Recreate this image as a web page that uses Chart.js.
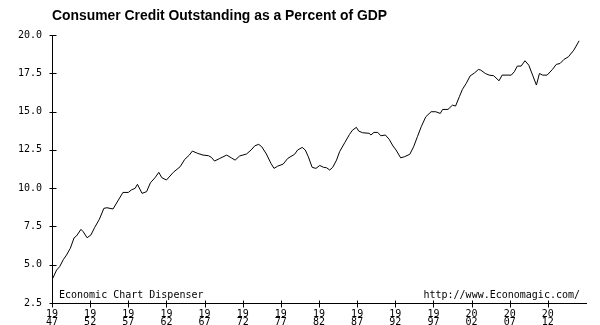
<!DOCTYPE html>
<html>
<head>
<meta charset="utf-8">
<script src="https://cdn.jsdelivr.net/npm/chart.js@4/dist/chart.umd.min.js"></script>
<style>
  html, body { margin: 0; padding: 0; background: #fff; }
  #wrap { width: 600px; height: 325px; position: relative; }
</style>
</head>
<body>
<div id="wrap"><canvas id="creditChart"></canvas></div>
<script>
/* ---------- DATA ---------- */

const chartTitle = "Consumer Credit Outstanding as a Percent of GDP";
const leftNote = "Economic Chart Dispenser";
const rightNote = "http://www.Economagic.com/";

const years = [
  1947.1, 1947.6, 1948.0, 1948.5, 1948.9, 1949.4, 1949.9, 1950.2, 1950.8, 1951.1,
  1951.6, 1952.1, 1952.6, 1953.2, 1953.8, 1954.2, 1955.0, 1955.7, 1956.3, 1957.0,
  1957.4, 1957.9, 1958.2, 1958.8, 1959.4, 1959.9, 1960.5, 1961.0, 1961.4, 1962.0,
  1962.9, 1963.8, 1964.4, 1965.0, 1965.4, 1966.1, 1966.8, 1967.5, 1967.9, 1968.3,
  1969.0, 1969.9, 1970.5, 1971.0, 1971.6, 1972.5, 1973.1, 1973.6, 1974.1, 1974.5,
  1975.1, 1975.7, 1976.1, 1976.6, 1977.3, 1977.9, 1978.8, 1979.2, 1979.8, 1980.2,
  1980.6, 1981.1, 1981.6, 1982.1, 1982.6, 1983.0, 1983.4, 1983.8, 1984.3, 1984.7,
  1985.4, 1986.0, 1986.4, 1986.9, 1987.2, 1987.7, 1988.6, 1988.8, 1989.2, 1989.7,
  1990.1, 1990.7, 1991.2, 1991.7, 1992.1, 1992.7, 1993.2, 1993.9, 1994.4, 1994.9,
  1995.4, 1996.0, 1996.7, 1997.3, 1997.9, 1998.2, 1998.9, 1999.5, 1999.9, 2000.4,
  2000.8, 2001.3, 2001.8, 2002.4, 2002.9, 2003.2, 2003.8, 2004.3, 2004.9, 2005.6,
  2006.0, 2007.2, 2007.6, 2008.0, 2008.5, 2009.0, 2009.5, 2010.0, 2010.5, 2010.9,
  2011.3, 2011.9, 2012.6, 2013.1, 2013.6, 2014.1, 2014.7, 2015.4, 2016.1,
];

const creditPct = [
  4.11, 4.65, 4.87, 5.35, 5.63, 6.07, 6.76, 6.87, 7.31, 7.15,
  6.76, 6.94, 7.44, 7.96, 8.68, 8.72, 8.64, 9.22, 9.72, 9.72,
  9.88, 9.99, 10.25, 9.66, 9.77, 10.35, 10.68, 11.03, 10.68, 10.53,
  11.03, 11.40, 11.88, 12.16, 12.42, 12.27, 12.16, 12.12, 12.01, 11.77,
  11.94, 12.16, 11.98, 11.83, 12.10, 12.23, 12.49, 12.77, 12.86, 12.70,
  12.23, 11.62, 11.29, 11.44, 11.57, 11.94, 12.21, 12.49, 12.66, 12.49,
  12.05, 11.36, 11.29, 11.48, 11.36, 11.33, 11.18, 11.36, 11.83, 12.38,
  12.99, 13.51, 13.79, 13.97, 13.73, 13.62, 13.58, 13.47, 13.64, 13.64,
  13.42, 13.47, 13.19, 12.75, 12.49, 11.98, 12.05, 12.21, 12.70, 13.36,
  14.01, 14.66, 14.99, 14.99, 14.88, 15.14, 15.14, 15.42, 15.36, 15.97,
  16.45, 16.84, 17.32, 17.53, 17.75, 17.71, 17.49, 17.38, 17.34, 17.01,
  17.38, 17.38, 17.60, 17.97, 17.97, 18.32, 18.03, 17.38, 16.73, 17.49,
  17.38, 17.38, 17.75, 18.08, 18.14, 18.40, 18.58, 19.01, 19.62,
];

const xTickYears = [1947, 1952, 1957, 1962, 1967, 1972, 1977, 1982, 1987, 1992, 1997, 2002, 2007, 2012];
const yTicks = [2.5, 5.0, 7.5, 10.0, 12.5, 15.0, 17.5, 20.0];

/* ---------- FONTS ---------- */

const monoFont = "'DejaVu Sans Mono', 'Liberation Mono', monospace";
const titleFont = "'Liberation Sans Narrow', 'Liberation Sans', Arial, sans-serif";

/* ---------- EXTRAS: crossing ticks, title, notes ---------- */

const extrasPlugin = {
  id: "extras",
  afterDraw(chart) {
    const { ctx, chartArea, scales } = chart;
    const xs = scales.x;
    const ys = scales.y;
    ctx.save();
    ctx.strokeStyle = "#000";
    ctx.lineWidth = 1;
    ctx.beginPath();
    const ax = Math.round(chartArea.left) + 0.5;
    yTicks.forEach((v) => {
      const py = Math.round(ys.getPixelForValue(v)) + 0.5;
      ctx.moveTo(ax - 3, py);
      ctx.lineTo(ax + 4, py);
    });
    const ay = Math.round(chartArea.bottom) + 0.5;
    xTickYears.forEach((v) => {
      const px = Math.round(xs.getPixelForValue(v)) + 0.5;
      ctx.moveTo(px, ay - 3);
      ctx.lineTo(px, ay + 4);
    });
    ctx.stroke();

    // notes inside the plot, bottom
    ctx.fillStyle = "#000";
    ctx.font = "10px " + monoFont;
    ctx.textBaseline = "middle";
    ctx.textAlign = "left";
    ctx.fillText(leftNote, 59, 295);
    ctx.textAlign = "right";
    ctx.fillText(rightNote, 580, 295);

    // title, fitted to its width in the picture
    ctx.font = "bold 14px " + titleFont;
    ctx.textAlign = "left";
    ctx.textBaseline = "alphabetic";
    const w = ctx.measureText(chartTitle).width;
    const sx = 335 / w;
    ctx.translate(52, 20);
    ctx.scale(sx, 1);
    ctx.fillText(chartTitle, 0, 0);
    ctx.restore();
  },
};

/* ---------- CHART ---------- */

new Chart(document.getElementById("creditChart"), {
  type: "line",
  data: {
    datasets: [
      {
        data: years.map((y, i) => ({ x: y, y: creditPct[i] })),
        borderColor: "#000",
        borderWidth: 1,
        pointRadius: 0,
        tension: 0,
        fill: false,
      },
    ],
  },
  options: {
    responsive: true,
    maintainAspectRatio: false,
    animation: false,
    devicePixelRatio: 1,
    layout: { padding: { top: 35, right: 14, bottom: 0, left: 0 } },
    plugins: {
      legend: { display: false },
      tooltip: { enabled: false },
    },
    scales: {
      x: {
        type: "linear",
        min: 1947,
        max: 2017,
        grid: { display: false, drawTicks: false },
        border: { display: true, color: "#000", width: 1 },
        afterBuildTicks: (s) => {
          s.ticks = xTickYears.map((v) => ({ value: v }));
        },
        afterFit: (s) => {
          s.height = 22;
        },
        ticks: {
          color: "#000",
          padding: 7,
          maxRotation: 0,
          autoSkip: false,
          font: { family: monoFont, size: 10, lineHeight: 0.85 },
          callback: (v) => {
            const s = String(v);
            return [s.slice(0, 2), s.slice(2)];
          },
        },
      },
      y: {
        min: 2.5,
        max: 20,
        grid: { display: false, drawTicks: false },
        border: { display: true, color: "#000", width: 1 },
        afterBuildTicks: (s) => {
          s.ticks = yTicks.map((v) => ({ value: v }));
        },
        afterFit: (s) => {
          s.width = 52;
        },
        ticks: {
          color: "#000",
          padding: 10,
          font: { family: monoFont, size: 10 },
          callback: (v) => Number(v).toFixed(1),
        },
      },
    },
  },
  plugins: [extrasPlugin],
});
</script>
</body>
</html>
